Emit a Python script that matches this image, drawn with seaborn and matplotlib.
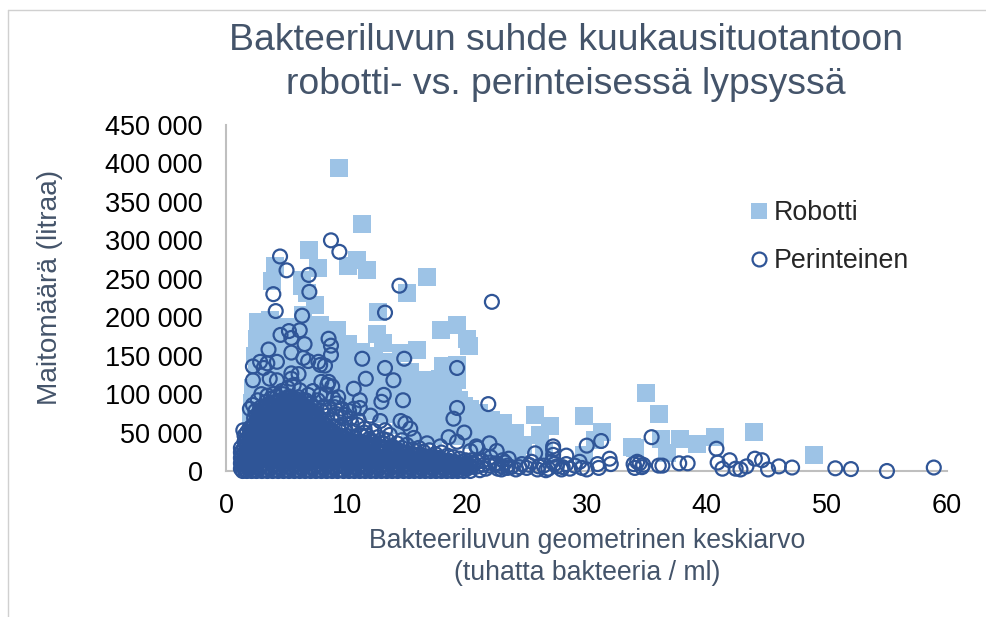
import matplotlib
matplotlib.use("Agg")
import matplotlib.pyplot as plt
import seaborn as sns
from matplotlib.lines import Line2D

# y values in thousands of litres
robotti_outliers = [
 (9.4,394),(11.3,321),(6.9,287),(7.6,264),(10.15,267),(10.9,274),(11.7,262),(16.7,252),(15,232),
 (12.65,207),(4,267),(3.8,247),(6.3,240),(6.3,248),(6.7,231),(7.4,216),(6.4,203),(2.6,194),(3.6,196),
 (4.9,187),(7.8,190),(19.2,190),(12.5,178),(13,166),(14.5,153),(15.9,157),(17.9,183),(20.2,163),(20,172),
 (18,136),(19.2,138),(15.3,129),(16.7,118),(17.8,90),(16.5,83),(20.3,80),(20.6,71),(21,75),(22,66),(23,62),
 (24,49),(24.7,34),(34.9,101),(36,74),(25.7,73),(29.8,71),(26.9,58),(31.3,51),(26.1,47),(30.7,40),(33.8,31),
 (34,30),(36.2,41),(36.7,24),(37.8,42),(39.2,35),(40.7,44),(43.9,51),(48.9,21),(29.8,21),(26.4,25),
]
robotti_fill = [
 (2.5,172),(2.4,150),(2.5,128),(2.2,108),(2.1,88),(2.0,66),(2.1,46),(3.3,175),(3.2,150),(3.4,125),(3.1,104),
 (3.3,82),(3.2,60),(4.3,176),(4.4,152),(4.2,130),(4.5,108),(4.1,84),(5.4,170),(5.2,148),(5.5,126),(5.3,104),
 (6.4,182),(6.2,160),(6.5,138),(6.3,116),(7.3,178),(7.5,154),(7.2,132),(7.4,108),(8.4,180),(8.2,158),(8.5,134),
 (8.3,110),(9.2,183),(9.4,160),(9.1,136),(9.3,112),(10.1,165),(10.3,135),(10.2,108),(10.4,86),(11.2,155),
 (11.3,130),(11.1,106),(11.4,82),(12.3,150),(12.1,128),(12.4,104),(12.2,78),(13.4,142),(13.2,122),(13.4,98),
 (13.1,74),(14.2,118),(14.4,100),(14.2,78),(14.5,60),(15.4,108),(15.2,86),(15.5,66),(15.3,48),(16.4,100),
 (16.2,66),(16.5,48),(17.3,116),(17.5,68),(17.2,46),(18.4,112),(18.6,70),(18.3,48),(19.2,118),(19.4,92),
 (19.3,68),(19.1,46),(20.2,60),(20.4,40),(21.3,52),(21.1,34),(22.3,46),(22.1,26),(23.2,38),(23.4,22),(24.2,22),
]
robotti_fill_2 = [
 (2.9,190),(2.8,160),(2.9,138),(2.7,116),(2.7,96),(2.6,72),(3.8,186),(3.7,162),(3.8,138),(3.7,114),(3.6,92),
 (4.8,165),(4.9,140),(4.8,118),(4.7,94),(5.8,178),(5.9,152),(5.8,130),(5.9,108),(6.8,170),(6.9,148),(6.8,124),
 (6.9,100),(7.8,168),(7.9,144),(7.8,120),(7.9,98),(8.8,172),(8.9,148),(8.8,124),(8.9,100),(9.7,150),(9.8,126),
 (9.7,100),(10.7,146),(10.8,120),(10.7,96),(11.8,142),(11.7,118),(11.8,94),(12.8,136),(12.7,112),(12.8,88),
 (13.8,132),(13.7,108),(13.8,86),(14.9,112),(14.8,92),(14.9,70),(15.8,118),(15.9,94),(15.9,74),(16.8,106),
 (16.9,84),(16.9,58),(17.8,120),(17.9,104),(18.0,78),(17.9,58),(18.9,106),(18.8,82),(18.8,58),(19.8,84),
 (19.8,66),(19.7,50),(20.8,58),(20.7,44),(21.7,56),(21.8,40),(22.7,52),(22.8,34),(23.7,40),(23.8,26),
]

# the solid mass of rings: one x per column, with the y values read for that column
mass_x = [1.2,1.5,1.9,2.3,2.7,3.2,3.6,4.1,4.5,5.0,5.4,5.9,6.3,6.8,7.2,7.7,8.1,8.6,9.0,9.5,10.0,10.4,10.9,
          11.3,11.8,12.2,12.7,13.1,13.6,14.0,14.5,15.0,15.4,15.9,16.3,16.8,17.2,17.7,18.1,18.6,19.0,19.5,20.0]
mass_y = [
 [3,10,17,24,30],[2,9,16,23,31,38,46],[3,10,17,25,32,40,47,55],[2,9,17,24,31,39,46,53,61,69],
 [3,11,18,26,33,41,48,56,63,71,76],[2,10,17,25,32,40,47,55,62,70,78,84],[3,11,18,26,34,41,49,56,64,72,80,87],
 [2,9,17,25,32,40,48,55,63,71,78,85,90],[3,10,18,26,33,41,49,56,64,72,79,86,92],[2,10,17,25,33,40,48,56,63,71,79,87,95],
 [3,11,18,26,34,41,49,57,64,72,80,88,96],[2,9,17,25,32,40,48,55,63,71,79,86,93],[3,10,18,26,33,41,49,56,64,72,80,88],
 [2,10,17,25,33,40,48,56,63,71,79,83],[3,11,18,26,34,41,49,57,64,72,76],[2,9,17,25,32,40,48,55,63,70],
 [3,10,18,26,33,41,49,56,62],[2,10,17,25,33,40,48,54],[3,11,18,26,34,41,49],[2,9,17,24,32,39,46],
 [3,10,18,25,33,42],[2,10,17,25,32,40],[3,11,18,26,32,38],[2,9,16,24,31,36],[3,10,18,25,34],[2,10,17,24,33],
 [3,11,18,25,32],[2,9,16,23,31],[3,10,17,24,29],[2,9,16,22,28],[3,10,17,26],[2,9,16,24],[3,10,17,23],[2,9,15,21],
 [3,10,16,20],[2,8,14,19],[3,9,15,18],[2,8,13,17],[3,9,14],[2,7,13],[3,8,12],[2,7,11],[3,8,10],
]
mass2_x = [1.35,1.7,2.1,2.5,2.95,3.4,3.85,4.3,4.75,5.2,5.65,6.1,6.55,7.0,7.45,7.9,8.35,8.8,9.25,9.75,10.2,10.65,11.1,
           11.55,12.0,12.45,12.9,13.35,13.8,14.25,14.75,15.2,15.65,16.1,16.55,17.0,17.45,17.9,18.35,18.8,19.25,19.75,20.3]
mass2_y = [
 [0,6,13,20,27],[0,6,13,20,27,35,42,50],[0,6,14,21,29,36,43,51,58],[0,6,13,21,28,35,43,50,57,65,72],
 [0,7,14,22,29,37,44,52,59,67,74,80],[0,6,14,21,29,36,44,51,59,66,74,81,86],[0,7,15,22,30,37,45,53,60,68,76,83,89],
 [0,6,13,21,29,36,44,52,59,67,75,82,91],[0,7,14,22,30,37,45,53,60,68,76,83,93],[0,6,14,21,29,37,44,52,60,67,75,83,91,97],
 [0,7,15,22,30,38,45,53,61,68,76,84,92],[0,6,13,21,29,36,44,52,59,67,75,83,90],[0,7,14,22,30,37,45,53,60,68,76,84],
 [0,6,14,21,29,37,44,52,60,67,75,80],[0,7,15,22,30,38,45,53,61,68,73],[0,6,13,21,29,36,44,52,59,66],
 [0,7,14,22,30,37,45,53,59],[0,6,14,21,29,37,44,51],[0,7,15,22,30,37,45],[0,6,13,20,28,35,43],
 [0,7,14,21,29,38],[0,6,14,21,29,36],[0,7,15,22,29,35],[0,6,13,20,27,33],[0,7,14,22,30],[0,6,14,21,29],
 [0,7,15,22,29],[0,6,13,19,27],[0,7,14,20,26],[0,6,13,19,25],[0,7,14,22],[0,6,13,20],[0,7,14,20],[0,6,12,18],
 [0,6,13,17],[0,5,11,16],[0,6,12,15],[0,5,10,14],[0,6,11],[0,4,10],[0,5,9],[0,4,8],[0,5,7],
]
perinteinen_outliers = [
 (8.7,300),(9.4,285),(4.46,279),(5.0,261),(6.85,255),(14.4,241),(3.9,230),(6.9,233),(4.1,208),(6.3,202),(13.2,206),
 (22.1,220),(4.5,177),(5.2,182),(6.1,183),(5.4,173),(6.5,165),(8.5,172),(8.7,163),(8.7,151),(5.4,154),(3.5,158),
 (6.4,147),(6.8,143),(7.65,142),(7.8,138),(8.2,137),(2.2,136),(2.8,142),(3.4,140),(4.2,142),(3.1,134),(2.2,118),
 (3.6,120),(4.2,118),(5.4,127),(6.0,126),(5.4,120),(7.9,116),(8.5,116),(8.8,110),(8.4,112),(11.3,146),(13.2,134),
 (14.8,146),(11.6,120),(13.9,118),(10.6,107),(13.1,99),(12.9,90),(14.7,92),(19.2,134),(19.2,82),(18.9,68),(11.1,92),
 (11.1,82),(10.6,81),(12,72),(12.8,65),(14.5,65),(14.9,62),(15.3,55),(11.5,55),(13.2,53),(13.6,47),(14.6,40),(15.6,43),
 (16.7,36),(18.5,44),(19.8,50),(19.2,38),(17.8,32),(20.8,32),(20.3,26),(9.3,96),(6.1,105),(6.8,99),(2.9,100),(3.4,98),
 (2.2,86),(1.95,81),(7.8,99),(9.6,81),(9.9,73),(9.0,83),(9.5,71),(1.4,53),(2.6,92),(3.9,100),(4.6,104),(5.1,108),
 (5.6,112),(7.2,104),(7.6,92),(8.3,100),(8.9,94),(9.2,88),(10.2,78),(10.4,62),(11.0,66),(11.7,46),(12.3,52),(13.0,42),
 (21.8,87),(21.9,36),(20.9,30),(22.5,26),(23.5,16),(25.7,23),(27.2,32),(27.2,28),(27.2,21),(28.3,20),(30,33),(31.2,39),
 (29.4,12),(31.9,16),(32,9),(30.9,9),(31,4),(30,2),(35.4,44),(34.4,10),(34,4),(34.7,8),(34.2,12),(34.6,5),(33.9,9),
 (36,7),(36.3,7),(37.7,10),(38.4,10),(40.8,29),(40.9,11),(41.9,14),(41.3,3),(42.4,3),(42.8,2),(43.3,6),(44,16),(44.6,14),
 (45.1,2),(46,6),(47.1,4.5),(50.7,3.5),(52,2.5),(55,0),(58.9,4.5),
 (20.4,14),(20.9,6),(21.3,13),(21.6,3),(22,18),(22.4,8),(22.9,2),(23.2,11),(23.7,5),(24.1,2),(24.6,9),(25,4),(25.4,12),
 (25.9,2),(26.4,7),(26.8,3),(27.1,12),(27.5,6),(27.9,2),(28.3,9),(28.6,3),(29,7),(29.6,4),
 (20.6,9),(21.1,1),(21.9,11),(22.6,3),(23.0,14),(23.4,7),(24.4,5),(25.2,8),(26.0,6),(26.6,1),(27.3,9),(28.0,5),
]
perinteinen_shoulder = [
 (7.3,82),(7.9,78),(8.4,72),(8.8,66),(9.2,74),(9.6,60),(9.9,54),(10.3,68),(10.6,52),(10.9,60),(11.2,46),(11.5,50),
 (11.9,42),(12.2,38),(12.6,44),(13.0,36),(13.4,40),(13.8,32),(14.2,36),(14.6,30),(15.0,34),(15.5,28),(16.0,30),(16.4,25),
 (16.9,27),(17.4,22),(17.9,24),(18.4,20),(18.9,18),(19.4,16),(19.9,14),(20.4,11),(20.9,12),(21.4,8),(21.9,7),(22.4,10),
 (22.9,6),(23.4,4),(2.4,78),(2.8,82),(3.3,90),(3.7,94),(4.2,97),(4.7,100),(6.0,96),(6.6,92),(7.0,88),(8.1,84),(8.6,80),
 (9.0,58),(9.4,52),(10.0,46),(10.7,44),(11.3,38),(12.0,33),(12.9,30),(13.7,26),(14.6,24),(15.4,22),(16.2,19),
]
tick_y = [0,50,100,150,200,250,300,350,400,450]
tick_y_labels = ["0","50 000","100 000","150 000","200 000","250 000","300 000","350 000","400 000","450 000"]
tick_x = [0,10,20,30,40,50,60]

DARK = "#44546A"
SQ = "#9DC3E6"
RING = "#2F5597"

sns.set_theme(style="white")
plt.rcParams["font.family"] = ["Liberation Sans", "DejaVu Sans"]

fig = plt.figure(figsize=(9.87, 6.17), dpi=100)
ax = fig.add_axes([226.5/987, (617-471)/617, (947-226.5)/987, 346/617])

rob = robotti_outliers + robotti_fill + robotti_fill_2
singles = perinteinen_outliers + perinteinen_shoulder
per_x = [p[0] for p in singles]
per_y = [p[1] for p in singles]
for xs, yss in ((mass_x, mass_y), (mass2_x, mass2_y)):
    for x, ys in zip(xs, yss):
        per_x += [x]*len(ys)
        per_y += ys

sns.scatterplot(x=[p[0] for p in rob], y=[p[1] for p in rob], ax=ax, marker="s", s=150,
                color=SQ, linewidth=0, clip_on=False, zorder=3)
sns.scatterplot(x=per_x, y=per_y, ax=ax, marker="o", s=100, color=RING, linewidth=1.6,
                clip_on=False, zorder=4)
rings = ax.collections[-1]
rings.set_facecolor("none")
rings.set_edgecolor(RING)

ax.set_xlim(0, 60)
ax.set_ylim(0, 450)
ax.set_xticks(tick_x)
ax.set_yticks(tick_y)
ax.set_yticklabels(tick_y_labels)
ax.tick_params(axis="y", length=0, labelsize=19.5, colors="black", pad=17)
ax.tick_params(axis="x", length=0, labelsize=19.5, colors="black", pad=16)
for s in ("top", "right"):
    ax.spines[s].set_visible(False)
for s in ("left", "bottom"):
    ax.spines[s].set_color("#BFBFBF")
    ax.spines[s].set_linewidth(1.5)

fig.text(566/987, 1-41/617, "Bakteeriluvun suhde kuukausituotantoon", ha="center", va="center", fontsize=26.9, color=DARK)
fig.text(566/987, 1-85/617, "robotti- vs. perinteisessä lypsyssä", ha="center", va="center", fontsize=26.9, color=DARK)
fig.text(50/987, 1-287/617, "Maitomäärä (litraa)", rotation=90, ha="center", va="center", fontsize=20.2, color=DARK)
fig.text(587/987, 1-541/617, "Bakteeriluvun geometrinen keskiarvo", ha="center", va="center", fontsize=19.2, color=DARK)
fig.text(587/987, 1-573/617, "(tuhatta bakteeria / ml)", ha="center", va="center", fontsize=19.2, color=DARK)

handles = [
    Line2D([], [], linestyle="", marker="s", markersize=12.2, markerfacecolor=SQ, markeredgewidth=0, label="Robotti"),
    Line2D([], [], linestyle="", marker="o", markersize=10, markerfacecolor="none",
           markeredgecolor=RING, markeredgewidth=1.6, label="Perinteinen"),
]
leg = ax.legend(handles=handles, loc="upper left", bbox_to_anchor=(747/987, 1-200/617),
                bbox_transform=fig.transFigure, frameon=False, fontsize=19.3,
                labelspacing=0.82, handletextpad=0.08, borderpad=0, borderaxespad=0, handlelength=0.9)

# Frame of the chart object
fig.add_artist(Line2D([8/987, 1], [1-10/617, 1-10/617], color="#D0D0D0", lw=1))
fig.add_artist(Line2D([8/987, 8/987], [0, 1-10/617], color="#D0D0D0", lw=1))

fig.savefig("out.png", dpi=100)
